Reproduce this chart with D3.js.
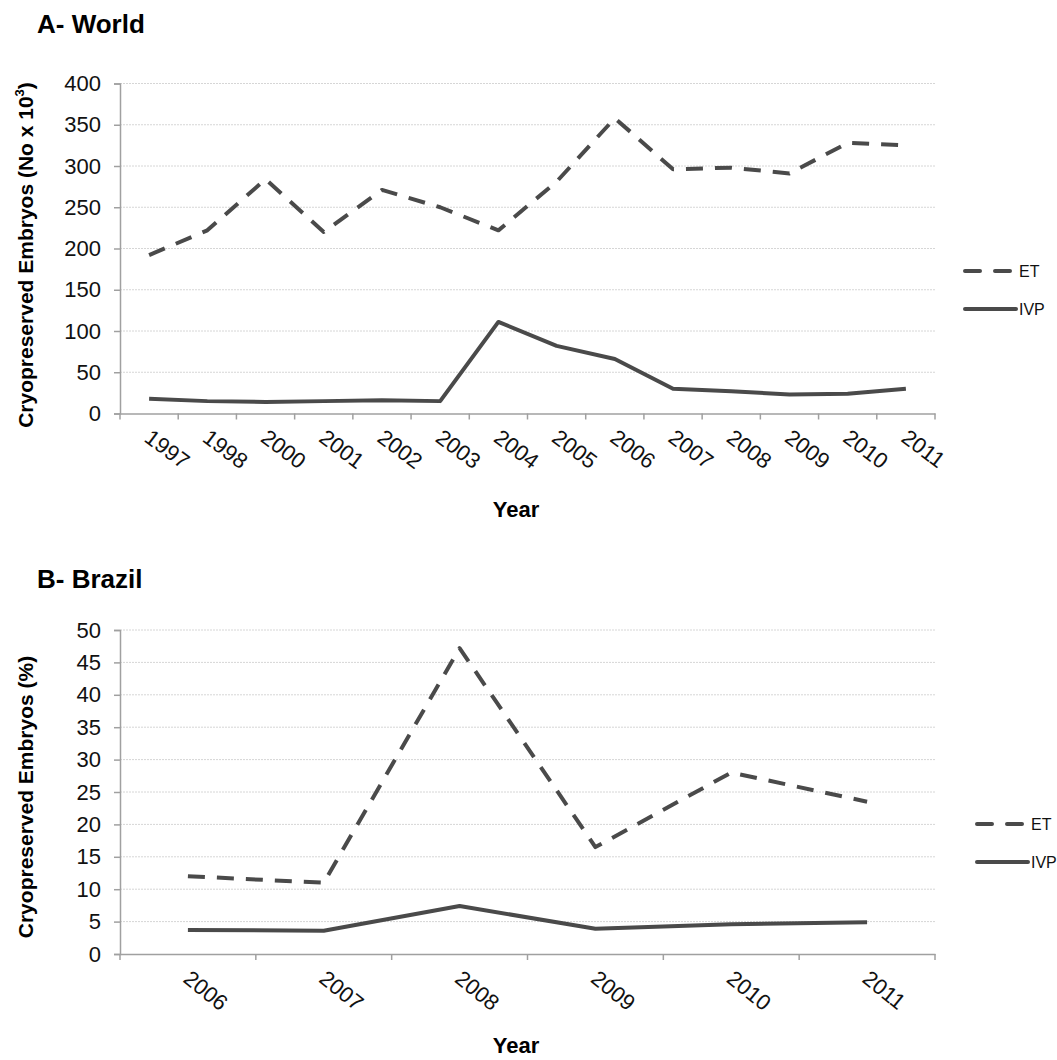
<!DOCTYPE html>
<html><head><meta charset="utf-8">
<script src="https://cdn.jsdelivr.net/npm/d3@7"></script>
<style>body{margin:0;background:#fff}svg{display:block;font-family:"Liberation Sans",Arial,sans-serif}</style>
</head><body>
<svg id="c" width="1057" height="1060"></svg>
<script>
const worldYears = ["1997","1998","2000","2001","2002","2003","2004","2005","2006","2007","2008","2009","2010","2011"];
const worldET  = [192,222,284,220,271,250,222,281,358,296,298,291,328,325];
const worldIVP = [18,15,14,15,16,15,111,82,66,30,27,23,24,30];
const worldTicks = [0,50,100,150,200,250,300,350,400];

const brazilYears = ["2006","2007","2008","2009","2010","2011"];
const brazilET  = [12,11,47.2,16.5,28,23.5];
const brazilIVP = [3.7,3.6,7.4,3.9,4.6,4.9];
const brazilTicks = [0,5,10,15,20,25,30,35,40,45,50];

const seriesNames = ["ET","IVP"];

const svg = d3.select("#c");
const lineColor = "#4a4a4a";
const axisColor = "#a0a0a0";

function panel(o){
  const g = svg.append("g");
  g.append("text").attr("x",37).attr("y",o.titleY).attr("font-size",26).attr("font-weight","bold").text(o.title);
  const x = d3.scaleBand().domain(o.cats).range([120,935]);
  const y = d3.scaleLinear().domain([0,o.max]).range([o.y0,o.y1]);
  // grid
  g.selectAll(".grid").data(o.ticks.filter(t=>t>0)).enter().append("line")
    .attr("x1",120).attr("x2",935).attr("y1",d=>y(d)).attr("y2",d=>y(d))
    .attr("stroke","#d6d6d6").attr("stroke-width",1).attr("stroke-dasharray","2,1");
  // y axis
  const ya = g.append("g").attr("transform","translate(120,0)")
    .call(d3.axisLeft(y).tickValues(o.ticks).tickSize(6).tickPadding(13));
  ya.select(".domain").attr("stroke",axisColor).attr("stroke-width",1.5);
  ya.selectAll(".tick line").attr("stroke",axisColor).attr("stroke-width",1.5);
  ya.selectAll(".tick text").attr("font-size",22).attr("fill","#111").attr("font-family","Liberation Sans, Arial, sans-serif");
  // x axis
  const xa = g.append("g").attr("transform",`translate(0,${o.y0})`)
    .call(d3.axisBottom(x).tickSize(0).tickFormat(""));
  xa.select(".domain").attr("stroke",axisColor).attr("stroke-width",1.5);
  const bounds = o.cats.map(c=>x(c)).concat([935]);
  g.selectAll(".xt").data(bounds).enter().append("line")
    .attr("x1",d=>d).attr("x2",d=>d).attr("y1",o.y0).attr("y2",o.y0+6)
    .attr("stroke",axisColor).attr("stroke-width",1.5);
  g.selectAll(".xl").data(o.cats).enter().append("text")
    .attr("transform",d=>`translate(${x(d)+x.bandwidth()/2-6},${o.y0+o.labOff}) rotate(${o.rot})`)
    .attr("font-size",22).attr("fill","#111").text(d=>d);
  // axis titles
  g.append("text").attr("transform",`translate(33,${o.ytY}) rotate(-90)`).attr("text-anchor","middle")
    .attr("font-size",21).attr("font-weight","bold").html(o.ytitle);
  g.append("text").attr("x",516).attr("y",o.xtY).attr("text-anchor","middle")
    .attr("font-size",22).attr("font-weight","bold").text("Year");
  // lines
  const line = d3.line().x((d,i)=>x(o.cats[i])+x.bandwidth()/2).y(d=>y(d));
  g.append("path").datum(o.et).attr("d",line).attr("fill","none").attr("stroke",lineColor)
    .attr("stroke-width",4).attr("stroke-dasharray","17,12").attr("stroke-linejoin","round");
  g.append("path").datum(o.ivp).attr("d",line).attr("fill","none").attr("stroke",lineColor)
    .attr("stroke-width",4).attr("stroke-linejoin","round");
  // legend
  const lg = g.append("g").attr("transform",`translate(${o.lgX},${o.lgY})`);
  seriesNames.forEach((n,i)=>{
    const yy = i*o.lgGap;
    lg.append("line").attr("x1",0).attr("x2",n==="ET"?47:51).attr("y1",yy).attr("y2",yy)
      .attr("stroke",lineColor).attr("stroke-width",4).attr("stroke-linecap","round")
      .attr("stroke-dasharray",n==="ET"?"15,15":null);
    lg.append("text").attr("x",54).attr("y",yy+6).attr("font-size",16).attr("fill","#111").text(n);
  });
}

panel({title:"A- World",titleY:33,cats:worldYears,et:worldET,ivp:worldIVP,ticks:worldTicks,max:400,
  y0:413.5,y1:83.5,labOff:27,rot:37,ytitle:'Cryopreserved Embryos (No x 10<tspan dy="-9" font-size="13">3</tspan><tspan dy="9">)</tspan>',
  ytY:255,xtY:517,lgX:965,lgY:271,lgGap:38});
panel({title:"B- Brazil",titleY:588,cats:brazilYears,et:brazilET,ivp:brazilIVP,ticks:brazilTicks,max:50,
  y0:954,y1:630,labOff:27,rot:39,ytitle:"Cryopreserved Embryos (%)",
  ytY:797,xtY:1053,lgX:977,lgY:824,lgGap:38});
</script>
</body></html>
